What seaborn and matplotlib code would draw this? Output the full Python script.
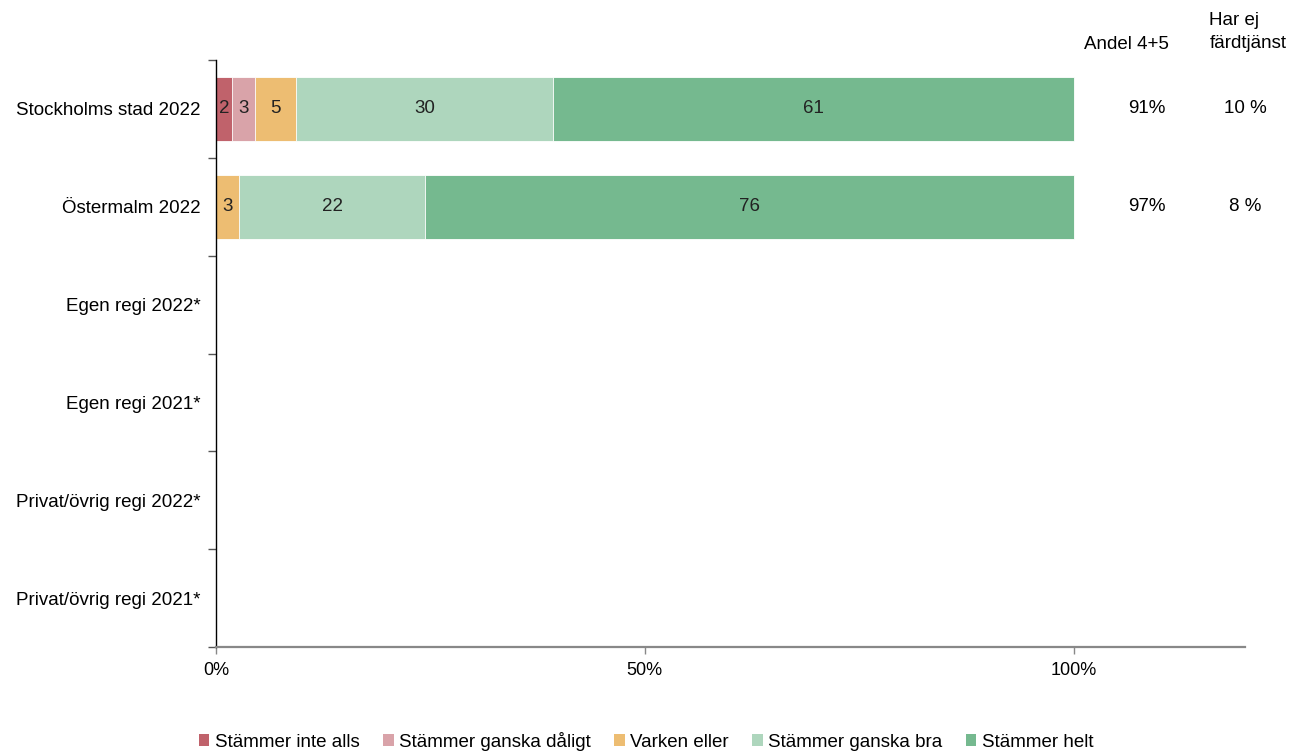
import numpy as np
import pandas as pd
import matplotlib
matplotlib.use("Agg")
import matplotlib.pyplot as plt
import seaborn as sns
from matplotlib.patches import Patch

# ---------------------------------------------
# DATA
# ---------------------------------------------
groups = ["Stockholms stad 2022", "Östermalm 2022", "Egen regi 2022*",
          "Egen regi 2021*", "Privat/övrig regi 2022*", "Privat/övrig regi 2021*"]
answers = ["Stämmer inte alls", "Stämmer ganska dåligt", "Varken eller",
           "Stämmer ganska bra", "Stämmer helt"]
colors = ["#C0626B", "#D9A3A9", "#EDBD72", "#AED6BD", "#75B98F"]

stockholm = [1.9, 2.6, 4.8, 30.0, 60.7]
ostermalm = [0.0, 0.0, 2.7, 21.7, 75.6]
share_45 = ["91%", "97%"]
no_service = ["10 %", "8 %"]

FS = 13.5

sns.set_theme(style="white")
plt.rcParams["font.family"] = ["Liberation Sans", "DejaVu Sans"]
plt.rcParams["text.color"] = "black"
plt.rcParams["xtick.color"] = "black"
plt.rcParams["ytick.color"] = "black"

df = pd.DataFrame([stockholm, ostermalm], columns=answers,
                  index=groups[:2])
cum = df.cumsum(axis=1)

fig = plt.figure(figsize=(13.03, 7.51), dpi=100)
ax = fig.add_axes([0.1658, 0.1385, 0.7897, 0.7815])

# stacked bars: draw cumulative totals from the back to the front
for ans, col in reversed(list(zip(answers, colors))):
    sub = pd.DataFrame({"group": cum.index, "value": cum[ans].values})
    sns.barplot(data=sub, x="value", y="group", order=groups, color=col,
                width=0.66, edgecolor="white", linewidth=0.6,
                saturation=1, ax=ax)

# segment labels
for i, g in enumerate(df.index):
    left = 0
    for ans in answers:
        v = df.loc[g, ans]
        if v > 0:
            ax.text(left + v / 2, i, f"{v:.0f}", ha="center", va="center",
                    fontsize=FS, color="#222222")
        left += v

# right side columns
for i in range(len(share_45)):
    ax.text(108.6, i, share_45[i], ha="center", va="center", fontsize=FS)
    ax.text(120.0, i, no_service[i], ha="center", va="center", fontsize=FS,
            clip_on=False)
ax.text(106.2, -0.66, "Andel 4+5", ha="center", va="center", fontsize=FS)
ax.text(115.85, -0.58, "Har ej\nfärdtjänst", ha="left", va="bottom",
        fontsize=FS, linespacing=1.5, clip_on=False)

ax.set_xlim(0, 120)
ax.set_ylim(len(groups) - 0.5, -0.5)
ax.set_xticks([0, 50, 100])
ax.set_xticklabels(["0%", "50%", "100%"], fontsize=FS - 0.5)
ax.set_yticks(range(len(groups)))
ax.set_yticklabels(groups, fontsize=FS)
ax.set_yticks(np.arange(-0.5, len(groups)), minor=True)
ax.tick_params(axis="y", which="major", length=0, pad=11)
ax.tick_params(axis="y", which="minor", length=6, width=1, color="#555555",
               left=True)
ax.tick_params(axis="x", which="major", length=5, width=1, color="#888888",
               bottom=True, pad=6)
ax.set_xlabel("")
ax.set_ylabel("")

for s in ["top", "right"]:
    ax.spines[s].set_visible(False)
ax.spines["left"].set_color("black")
ax.spines["left"].set_linewidth(1)
ax.spines["bottom"].set_color("#888888")
ax.spines["bottom"].set_linewidth(1.6)

handles = [Patch(facecolor=c, edgecolor="none", label=a)
           for a, c in zip(answers, colors)]
fig.legend(handles=handles, loc="lower center", bbox_to_anchor=(0.496, -0.022),
           ncol=5, frameon=False, fontsize=FS, handlelength=0.55,
           handleheight=0.65, handletextpad=0.3, columnspacing=1.25)

plt.savefig("out.png", dpi=100)
plt.close()
